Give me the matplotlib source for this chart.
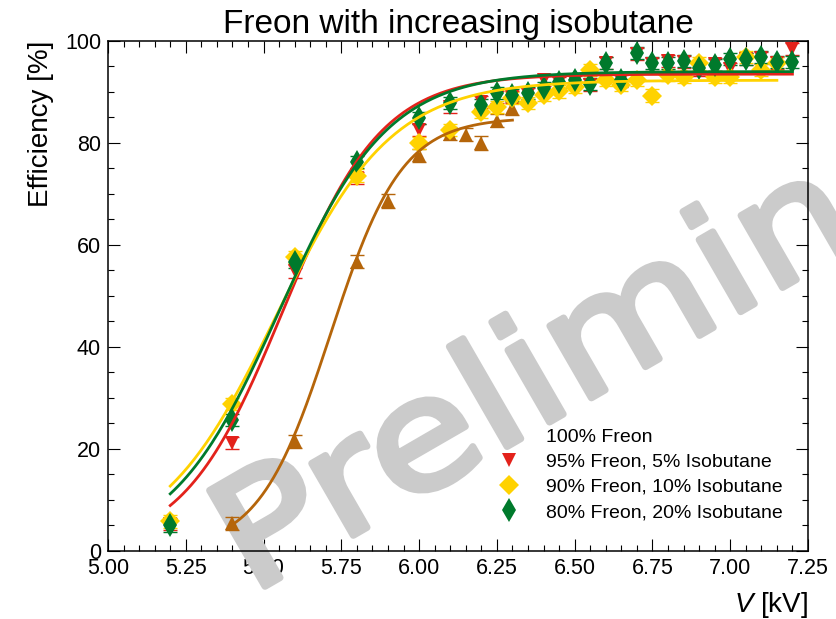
import numpy as np
import matplotlib
matplotlib.use("Agg")
import matplotlib.pyplot as plt
from matplotlib.lines import Line2D
from matplotlib.patches import PathPatch
from matplotlib.textpath import TextPath
from matplotlib.font_manager import FontProperties
from matplotlib.transforms import Affine2D
from matplotlib.ticker import MultipleLocator

plt.rcParams['font.family'] = ['Liberation Sans', 'DejaVu Sans']
plt.rcParams['mathtext.fontset'] = 'custom'
plt.rcParams['mathtext.it'] = 'Liberation Sans:italic'
plt.rcParams['mathtext.rm'] = 'Liberation Sans'

# voltages [kV]
v_brown = [5.4, 5.6, 5.8, 5.9, 6.0, 6.1, 6.15, 6.2, 6.25, 6.3]
v_red = [5.2, 5.4, 5.6, 5.8, 6.0, 6.1, 6.2, 6.25, 6.3, 6.35, 6.4, 6.45, 6.5, 6.55,
         6.6, 6.65, 6.7, 6.75, 6.8, 6.85, 6.9, 6.95, 7.0, 7.05, 7.1, 7.15, 7.2]
v_yellow = v_red[:-1]
v_green = v_red

# efficiencies [%]
eff_brown = [5.4, 21.5, 56.7, 68.6, 77.6, 81.8, 81.6, 80.0, 84.4, 86.8]
eff_red = [5.3, 21.2, 54.8, 73.2, 82.5, 87.0, 88.1, 89.0, 89.0, 89.5, 92.3, 91.8, 92.0, 91.4,
           95.7, 92.2, 97.4, 95.4, 96.0, 95.9, 94.4, 95.4, 94.5, 96.4, 96.6, 95.7, 98.5]
eff_yellow = [5.8, 28.8, 57.6, 73.6, 80.0, 82.6, 86.1, 87.1, 88.8, 87.8, 89.4, 90.1, 91.0, 94.3,
              92.4, 91.4, 92.4, 89.3, 93.3, 93.0, 95.6, 93.0, 93.0, 96.9, 94.3, 95.6]
eff_green = [5.0, 25.7, 56.7, 76.3, 84.9, 87.8, 87.5, 89.8, 89.4, 89.8, 90.8, 92.0, 92.4, 91.6,
             95.7, 92.4, 97.6, 95.7, 95.7, 96.1, 94.7, 95.3, 96.5, 96.5, 96.9, 95.9, 95.9]

# uncertainties [%]
err_brown = 1.3
err_red = 1.2
err_yellow = 1.2
err_green = 1.2

# sigmoid fit parameters: plateau, V50, width
fit_brown = [85.0, 5.715, 0.115]
fit_red = [93.5, 5.56, 0.16]
fit_yellow = [92.3, 5.541, 0.186]
fit_green = [94.0, 5.55, 0.175]

labels = ['100% Freon', '95% Freon, 5% Isobutane', '90% Freon, 10% Isobutane', '80% Freon, 20% Isobutane']
colors = ['#b5650a', '#e3221b', '#ffd200', '#007a2c']
markers = ['^', 'v', 'D', 'd']
msizes = [9.5, 9.5, 10, 12]

series = [(v_brown, eff_brown, err_brown, fit_brown),
          (v_red, eff_red, err_red, fit_red),
          (v_yellow, eff_yellow, err_yellow, fit_yellow),
          (v_green, eff_green, err_green, fit_green)]

fig = plt.figure(figsize=(8.36, 6.19), dpi=100)
ax = fig.add_axes([0.1292, 0.1099, 0.8373, 0.8239])

for (v, eff, err, fit), c, m, ms in zip(series, colors, markers, msizes):
    eb = ax.errorbar(v, eff, yerr=err, fmt=m, color=c, ms=ms, mew=0, elinewidth=1.0,
                     capsize=5, zorder=3)
    for cap in eb[1]:
        cap.set_markeredgewidth(1.0)
    vv = np.linspace(min(v), max(v), 300)
    ax.plot(vv, fit[0] / (1 + np.exp(-(vv - fit[1]) / fit[2])), color=c, lw=2.0, zorder=4)

# watermark: wide, rounded grey lettering (drawn in pixel coordinates)
wm_color = '#cbcbcb'
wm_path = TextPath((0, 0), 'Preliminary', size=152, prop=FontProperties(family='DejaVu Sans'))
wm_tr = Affine2D().scale(1.16, 1.0).rotate_deg(30).translate(250, 619 - 595)
wm = PathPatch(wm_path, transform=wm_tr, facecolor=wm_color, edgecolor=wm_color, lw=5,
               joinstyle='round', capstyle='round', zorder=1.8, clip_on=False)
ax.add_artist(wm)

ax.set_xlim(5.0, 7.25)
ax.set_ylim(0, 100)
ax.xaxis.set_major_locator(MultipleLocator(0.25))
ax.xaxis.set_minor_locator(MultipleLocator(0.05))
ax.yaxis.set_major_locator(MultipleLocator(20))
ax.yaxis.set_minor_locator(MultipleLocator(5))
ax.xaxis.set_major_formatter(plt.FormatStrFormatter('%.2f'))
ax.tick_params(which='both', direction='in', top=True, right=True, labelsize=15.5, pad=5)
ax.tick_params(which='major', length=8.5, width=0.8)
ax.tick_params(which='minor', length=4.5, width=0.8)
for s in ax.spines.values():
    s.set_linewidth(1.1)

ax.set_title('Freon with increasing isobutane', fontsize=24, pad=6)
ax.set_ylabel('Efficiency [%]', fontsize=20, loc='top', labelpad=8)
ax.set_xlabel('$V$ [kV]', fontsize=20, loc='right', labelpad=8)

handles = [Line2D([], [], ls='none', marker='none')]
for c, m, ms in zip(colors[1:], markers[1:], msizes[1:]):
    handles.append(Line2D([], [], ls='none', marker=m, color=c, ms=ms, mew=0))
ax.legend(handles, labels, loc='upper left', bbox_to_anchor=(499 / 836, 1 - 428 / 619),
          bbox_transform=fig.transFigure, frameon=False, fontsize=14, borderpad=0,
          handlelength=1.0, handletextpad=1.4, labelspacing=0.39, borderaxespad=0)

fig.savefig('out.png', dpi=100)
